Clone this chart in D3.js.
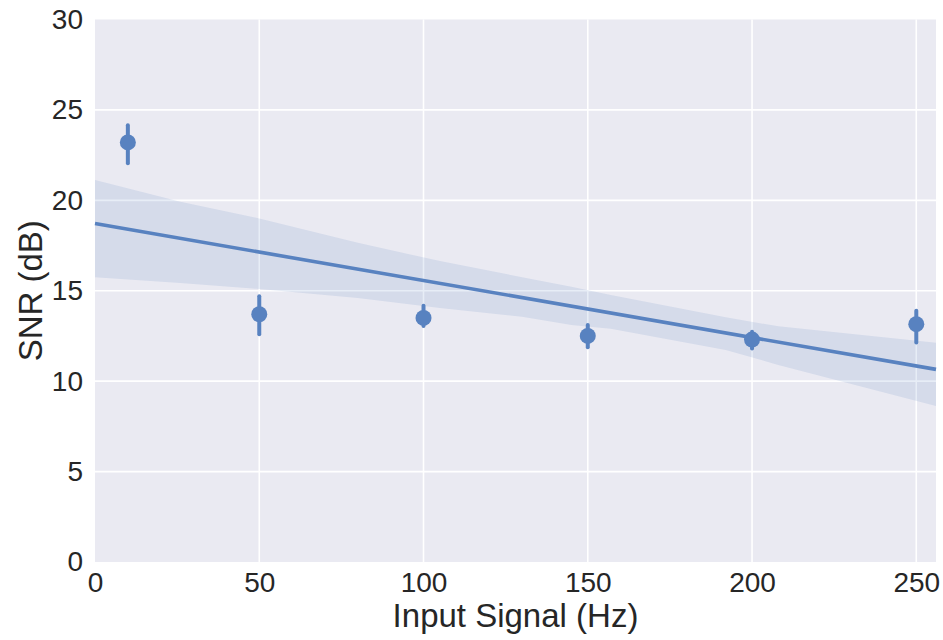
<!DOCTYPE html>
<html>
<head>
<meta charset="utf-8">
<script src="https://cdn.jsdelivr.net/npm/d3@7"></script>
<style>
  html, body { margin: 0; padding: 0; background: #ffffff; }
  svg { display: block; }
  text { font-family: "Liberation Sans", Arial, sans-serif; fill: #262626; }
</style>
</head>
<body>
<svg id="chart" width="943" height="640"></svg>
<script>
// Mean SNR per input frequency, with its error-bar range
const freqs   = [10, 50, 100, 150, 200, 250];
const snrMean = [23.2, 13.7, 13.5, 12.5, 12.3, 13.15];
const snrLow  = [22.05, 12.6, 13.05, 11.87, 11.81, 12.14];
const snrHigh = [24.15, 14.7, 14.17, 13.1, 12.73, 13.89];

// Confidence band around the fitted line
const bandX    = [0, 26, 50, 80, 105, 130, 145, 157, 192, 208, 256];
const bandLow  = [15.74, 15.43, 15.1, 14.6, 14.05, 13.56, 13.1, 12.9, 11.72, 10.9, 8.63];
const bandHigh = [21.12, 19.92, 19.0, 17.65, 16.64, 15.75, 15.22, 14.76, 13.53, 13.03, 12.12];

const xTicks = [0, 50, 100, 150, 200, 250];
const yTicks = [0, 5, 10, 15, 20, 25, 30];
const xDomain = [0, 256];
const yDomain = [0, 30];

const margin = { left: 95, right: 7, top: 19.5, bottom: 78 };
const W = 943, H = 640;
const svg = d3.select("#chart");

const x = d3.scaleLinear().domain(xDomain).range([margin.left, W - margin.right]);
const y = d3.scaleLinear().domain(yDomain).range([H - margin.bottom, margin.top]);

const color = "#5882c0";

// plot background
svg.append("rect")
  .attr("x", x.range()[0]).attr("y", y.range()[1])
  .attr("width", x.range()[1] - x.range()[0])
  .attr("height", y.range()[0] - y.range()[1])
  .attr("fill", "#eaeaf2");

// gridlines
const grid = svg.append("g").attr("stroke", "#ffffff").attr("stroke-width", 1.6);
grid.selectAll("line.gx").data(xTicks.filter(t => t > xDomain[0])).join("line")
  .attr("x1", d => x(d)).attr("x2", d => x(d))
  .attr("y1", y.range()[0]).attr("y2", y.range()[1]);
grid.selectAll("line.gy").data(yTicks.filter(t => t > yDomain[0] && t < yDomain[1])).join("line")
  .attr("y1", d => y(d)).attr("y2", d => y(d))
  .attr("x1", x.range()[0]).attr("x2", x.range()[1]);

// least-squares fit through the group means
const mx = d3.mean(freqs), my = d3.mean(snrMean);
const sxy = d3.sum(freqs, (f, i) => (f - mx) * (snrMean[i] - my));
const sxx = d3.sum(freqs, f => (f - mx) ** 2);
const slope = sxy / sxx;
const intercept = my - slope * mx;

// confidence band
const band = bandX.map((bx, i) => ({ x: bx, lo: bandLow[i], hi: bandHigh[i] }));
svg.append("path")
  .datum(band)
  .attr("fill", color).attr("fill-opacity", 0.14)
  .attr("d", d3.area().x(d => x(d.x)).y0(d => y(d.lo)).y1(d => y(d.hi)));

// regression line
svg.append("path")
  .datum(xDomain.map(v => ({ x: v, y: intercept + slope * v })))
  .attr("fill", "none").attr("stroke", color).attr("stroke-width", 3.6)
  .attr("d", d3.line().x(d => x(d.x)).y(d => y(d.y)));

// error bars and mean markers
const pts = freqs.map((f, i) => ({ f, m: snrMean[i], lo: snrLow[i], hi: snrHigh[i] }));
svg.append("g").selectAll("line").data(pts).join("line")
  .attr("x1", d => x(d.f)).attr("x2", d => x(d.f))
  .attr("y1", d => y(d.lo)).attr("y2", d => y(d.hi))
  .attr("stroke", color).attr("stroke-width", 4).attr("stroke-linecap", "round");
svg.append("g").selectAll("circle").data(pts).join("circle")
  .attr("cx", d => x(d.f)).attr("cy", d => y(d.m)).attr("r", 8)
  .attr("fill", color);

// axes (labels only, no domain lines or tick marks)
const fs = 28;
const xAxis = svg.append("g")
  .attr("transform", `translate(0,${y.range()[0]})`)
  .call(d3.axisBottom(x).tickValues(xTicks).tickSize(0).tickPadding(10));
const yAxis = svg.append("g")
  .attr("transform", `translate(${x.range()[0]},0)`)
  .call(d3.axisLeft(y).tickValues(yTicks).tickSize(0).tickPadding(12));
[xAxis, yAxis].forEach(a => {
  a.select(".domain").remove();
  a.selectAll("text").attr("font-size", fs).attr("fill", "#262626")
    .attr("font-family", "'Liberation Sans', Arial, sans-serif");
});

svg.append("text")
  .attr("x", (x.range()[0] + x.range()[1]) / 2).attr("y", 627)
  .attr("text-anchor", "middle").attr("font-size", 33)
  .text("Input Signal (Hz)");
svg.append("text")
  .attr("transform", `translate(42,${(y.range()[0] + y.range()[1]) / 2}) rotate(-90)`)
  .attr("text-anchor", "middle").attr("font-size", 33)
  .text("SNR (dB)");
</script>
</body>
</html>
